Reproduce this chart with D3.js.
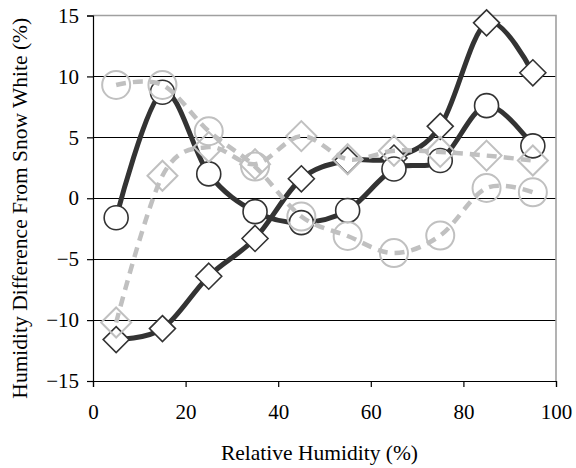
<!DOCTYPE html>
<html>
<head>
<meta charset="utf-8">
<script src="https://cdn.jsdelivr.net/npm/d3@7"></script>
<style>
  html, body { margin: 0; padding: 0; background: #fff; }
  svg { display: block; }
  text { font-family: "Liberation Serif", "Times New Roman", serif; fill: #000; }
</style>
</head>
<body>
<svg id="chart" width="576" height="468"></svg>
<script>
// ---- data ----
const humidity = [5, 15, 25, 35, 45, 55, 65, 75, 85, 95];
const darkDiamondValues = [-11.6, -10.7, -6.4, -3.3, 1.6, 3.1, 3.3, 5.9, 14.4, 10.3];
const darkCircleValues  = [-1.6, 8.7, 2.0, -1.1, -2.0, -1.0, 2.4, 3.1, 7.6, 4.3];
const grayDiamondValues = [-10.2, 1.85, 4.2, 2.8, 5.1, 3.2, 3.9, 3.8, 3.5, 3.1];
const grayCircleValues  = [9.3, 9.3, 5.5, 2.6, -1.5, -3.1, -4.5, -3.06, 0.84, 0.49];
const xTicks = [0, 20, 40, 60, 80, 100];
const yTicks = [-15, -10, -5, 0, 5, 10, 15];
const xTitle = "Relative Humidity (%)";
const yTitle = "Humidity Difference From Snow White (%)";

// ---- layout ----
const svg = d3.select("#chart");
const x = d3.scaleLinear().domain([0, 100]).range([93, 556]);
const y = d3.scaleLinear().domain([-15, 15]).range([381, 15.5]);

// gridlines
svg.append("g").selectAll("line").data(yTicks.filter(v => v > -15 && v < 15)).join("line")
  .attr("x1", x(0)).attr("x2", x(100))
  .attr("y1", d => y(d)).attr("y2", d => y(d))
  .attr("stroke", "#000").attr("stroke-width", 1).attr("shape-rendering", "crispEdges");

// plot border top/right (gray)
svg.append("path")
  .attr("d", `M${x(0)},${y(15)}H${x(100)}V${y(-15)}`)
  .attr("fill", "none").attr("stroke", "#a0a0a0").attr("stroke-width", 1.6);

// axes
const xAxis = svg.append("g").attr("transform", `translate(0,${y(-15)})`)
  .call(d3.axisBottom(x).tickValues(xTicks).tickSize(6).tickPadding(17).tickFormat(d3.format("d")));
const yAxis = svg.append("g").attr("transform", `translate(${x(0)},0)`)
  .call(d3.axisLeft(y).tickValues(yTicks).tickSize(6).tickPadding(8).tickFormat(d3.format("d")));
[xAxis, yAxis].forEach(g => {
  g.attr("font-family", null).attr("font-size", null);
  g.select(".domain").attr("stroke", "#000").attr("stroke-width", 1.2);
  g.selectAll(".tick line").attr("stroke", "#000").attr("stroke-width", 1.2);
  g.selectAll("text").attr("font-size", 21).attr("fill", "#000");
});

// titles
svg.append("text").attr("x", (x(0) + x(100)) / 2 - 5).attr("y", 460)
  .attr("text-anchor", "middle").attr("font-size", 21.5).text(xTitle);
svg.append("text").attr("transform", `translate(27,${(y(15) + y(-15)) / 2 + 10}) rotate(-90)`)
  .attr("text-anchor", "middle").attr("font-size", 21.5).text(yTitle);

// ---- series ----
const line = d3.line().x(d => x(d[0])).y(d => y(d[1])).curve(d3.curveCardinal.tension(0));
const diamondPath = s => `M0,${-s}L${s},0L0,${s}L${-s},0Z`;

function drawSeries(values, opt) {
  const pts = humidity.map((h, i) => [h, values[i]]);
  const g = svg.append("g");
  g.append("path").datum(pts).attr("d", line)
    .attr("fill", "none").attr("stroke", opt.lineColor).attr("stroke-width", opt.lineWidth)
    .attr("stroke-dasharray", opt.dash || null).attr("stroke-linejoin", "round")
    .attr("stroke-linecap", opt.dash ? "butt" : "round");
  const m = g.selectAll(".m").data(pts).join(opt.shape === "circle" ? "circle" : "path");
  if (opt.shape === "circle") {
    m.attr("cx", d => x(d[0])).attr("cy", d => y(d[1])).attr("r", opt.size);
  } else {
    m.attr("transform", d => `translate(${x(d[0])},${y(d[1])})`).attr("d", diamondPath(opt.size));
  }
  m.attr("fill", opt.fill).attr("stroke", opt.markerStroke).attr("stroke-width", opt.markerWidth);
}

drawSeries(darkDiamondValues, {lineColor: "#333", lineWidth: 5, shape: "diamond", size: 13, fill: "#fff", markerStroke: "#333", markerWidth: 1.6});
drawSeries(darkCircleValues,  {lineColor: "#333", lineWidth: 5, shape: "circle",  size: 12, fill: "#fff", markerStroke: "#333", markerWidth: 1.6});
drawSeries(grayDiamondValues, {lineColor: "#c0c0c0", lineWidth: 4.5, dash: "10,7", shape: "diamond", size: 15, fill: "none", markerStroke: "#c0c0c0", markerWidth: 2});
drawSeries(grayCircleValues,  {lineColor: "#c0c0c0", lineWidth: 4.5, dash: "10,7", shape: "circle",  size: 14, fill: "none", markerStroke: "#c0c0c0", markerWidth: 2});
</script>
</body>
</html>
